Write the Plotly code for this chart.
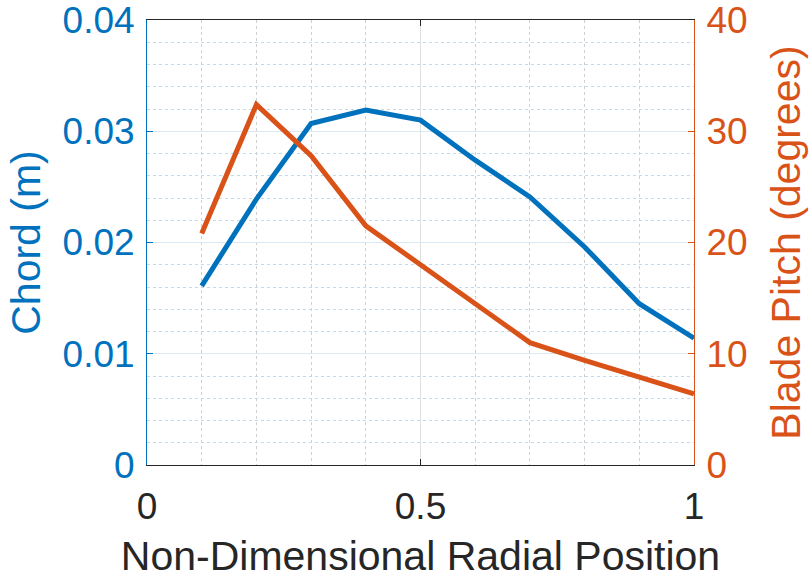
import plotly.graph_objects as go

radial_position = [0.1, 0.2, 0.3, 0.4, 0.5, 0.6, 0.7, 0.8, 0.9, 1.0]
chord_m = [0.0161, 0.0239, 0.0307, 0.0319, 0.0310, 0.0274, 0.0241, 0.0196, 0.0145, 0.0114]
pitch_deg = [20.8, 32.4, 27.8, 21.5, 18.0, 14.5, 11.0, 9.4, 7.9, 6.4]

x_ticks = [0, 0.5, 1]
x_ticktext = ["0", "0.5", "1"]
chord_ticks = [0, 0.01, 0.02, 0.03, 0.04]
chord_ticktext = ["0", "0.01", "0.02", "0.03", "0.04"]
pitch_ticks = [0, 10, 20, 30, 40]
pitch_ticktext = ["0", "10", "20", "30", "40"]

BLUE = "#0072BD"
ORANGE = "#D95319"
DARK = "#262626"
FONT = "Liberation Sans, Arial, sans-serif"

fig = go.Figure()
fig.add_trace(go.Scatter(x=radial_position, y=chord_m, mode="lines",
                         line=dict(color=BLUE, width=5), yaxis="y", showlegend=False))
fig.add_trace(go.Scatter(x=radial_position, y=pitch_deg, mode="lines",
                         line=dict(color=ORANGE, width=5), yaxis="y2", showlegend=False))

fig.update_layout(
    width=809, height=579,
    margin=dict(l=147, r=115, t=20, b=114, autoexpand=False),
    paper_bgcolor="white", plot_bgcolor="white",
    font=dict(family=FONT, size=37, color=DARK),
    xaxis=dict(
        range=[0, 1], tickvals=x_ticks, ticktext=x_ticktext,
        showline=True, linecolor=DARK, linewidth=1, mirror="ticks",
        ticks="inside", ticklen=6, tickcolor=DARK, tickwidth=1,
        showgrid=True, gridcolor="#DFDFDF", gridwidth=1,
        minor=dict(dtick=0.1, tick0=0, showgrid=True, gridcolor="#CFCFCF",
                   griddash="dot", gridwidth=1, ticks=""),
        tickfont=dict(size=37, color=DARK), ticklabelstandoff=9, ticklabeloverflow="allow",
        title=dict(text="Non-Dimensional Radial Position", font=dict(size=41, color=DARK), standoff=14),
        zeroline=False, automargin=False,
    ),
    yaxis=dict(
        range=[0, 0.0400001], tickvals=chord_ticks, ticktext=chord_ticktext,
        showline=True, linecolor=BLUE, linewidth=1,
        ticks="inside", ticklen=6, tickcolor=BLUE, tickwidth=1,
        showgrid=True, gridcolor="#D9EAF5", gridwidth=1,
        minor=dict(dtick=0.002, tick0=0, showgrid=True, gridcolor="#BFDCEF",
                   griddash="dot", gridwidth=1, ticks=""),
        tickfont=dict(size=37, color=BLUE), ticklabelstandoff=4, ticklabeloverflow="allow",
        title=dict(text="Chord (m)", font=dict(size=41, color=BLUE), standoff=9),
        zeroline=False, automargin=False,
    ),
    yaxis2=dict(
        range=[0, 40.0001], tickvals=pitch_ticks, ticktext=pitch_ticktext,
        overlaying="y", side="right",
        showline=True, linecolor=ORANGE, linewidth=1,
        ticks="inside", ticklen=6, tickcolor=ORANGE, tickwidth=1,
        showgrid=False,
        tickfont=dict(size=37, color=ORANGE), ticklabelstandoff=4, ticklabeloverflow="allow",
        title=dict(text="Blade Pitch (degrees)", font=dict(size=41, color=ORANGE), standoff=24),
        zeroline=False, automargin=False,
    ),
)

fig.write_html("out.html", config={"displayModeBar": False},
               post_script="document.body.style.margin='0';")
